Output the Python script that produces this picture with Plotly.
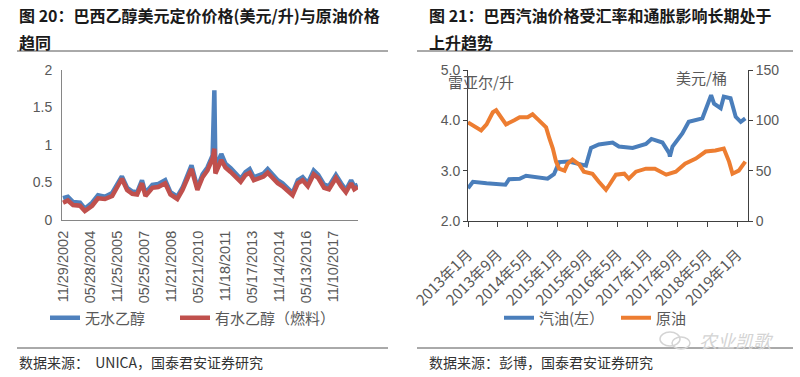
import plotly.graph_objects as go

# ---------------- Figure 20: Brazil ethanol prices (USD/L) ----------------
eth_dates = [
    "2002-11-29", "2003-03-07", "2003-06-20", "2003-11-07", "2004-02-13", "2004-07-09",
    "2004-11-05", "2005-03-25", "2005-08-19", "2005-11-25", "2006-03-03", "2006-06-16",
    "2006-09-29", "2007-01-05", "2007-04-13", "2007-06-22", "2007-11-09", "2008-03-07",
    "2008-07-25", "2008-11-07", "2009-03-27", "2009-07-10", "2009-10-23", "2010-01-08",
    "2010-05-07", "2010-08-20", "2010-11-26", "2011-03-11", "2011-04-15", "2011-05-06",
    "2011-09-02", "2011-11-25", "2012-03-09", "2012-06-15", "2012-09-28", "2013-01-04",
    "2013-03-29", "2013-06-21", "2013-09-27", "2014-01-03", "2014-03-28", "2014-07-04",
    "2014-10-17", "2015-01-23", "2015-05-08", "2015-08-14", "2015-11-27", "2016-03-04",
    "2016-06-17", "2016-10-14", "2017-01-13", "2017-05-12", "2017-08-18", "2018-01-05",
    "2018-04-20", "2018-07-27", "2018-11-09", "2019-01-11", "2019-03-22",
]
anhydrous = [
    0.29, 0.31, 0.24, 0.23, 0.15, 0.23,
    0.33, 0.31, 0.36, 0.47, 0.58, 0.43,
    0.38, 0.37, 0.53, 0.36, 0.47, 0.48,
    0.53, 0.37, 0.31, 0.43, 0.60, 0.73,
    0.43, 0.61, 0.70, 0.86, 1.73, 0.69,
    0.88, 0.75, 0.69, 0.62, 0.55, 0.64,
    0.68, 0.57, 0.60, 0.62, 0.68, 0.60,
    0.53, 0.49, 0.43, 0.36, 0.53, 0.57,
    0.49, 0.66, 0.60, 0.47, 0.45, 0.60,
    0.49, 0.40, 0.53, 0.45, 0.47,
]
hydrous = [
    0.23, 0.26, 0.20, 0.19, 0.12, 0.19,
    0.29, 0.28, 0.32, 0.43, 0.55, 0.40,
    0.35, 0.34, 0.49, 0.32, 0.43, 0.44,
    0.49, 0.34, 0.28, 0.40, 0.56, 0.68,
    0.40, 0.57, 0.66, 0.82, 0.95, 0.62,
    0.80, 0.70, 0.64, 0.57, 0.51, 0.60,
    0.63, 0.53, 0.56, 0.58, 0.63, 0.56,
    0.49, 0.45, 0.39, 0.33, 0.49, 0.53,
    0.45, 0.61, 0.56, 0.43, 0.41, 0.56,
    0.45, 0.37, 0.49, 0.41, 0.44,
]
eth_tick_dates = [
    "2002-11-29", "2004-05-28", "2005-11-25", "2007-05-25", "2008-11-21", "2010-05-21",
    "2011-11-18", "2013-05-17", "2014-11-14", "2016-05-13", "2017-11-10",
]
eth_tick_labels = [
    "11/29/2002", "05/28/2004", "11/25/2005", "05/25/2007", "11/21/2008", "05/21/2010",
    "11/18/2011", "05/17/2013", "11/14/2014", "05/13/2016", "11/10/2017",
]
eth_y_ticks = [0, 0.5, 1, 1.5, 2]
eth_y_labels = ["0", "0.5", "1", "1.5", "2"]

# ---------------- Figure 21: Brazil gasoline vs crude ----------------
gas_dates = [
    "2013-01-01", "2013-02-10", "2013-06-01", "2013-09-12", "2013-11-01", "2013-12-01",
    "2014-02-25", "2014-04-18", "2014-08-01", "2014-10-10", "2014-12-01", "2015-01-12",
    "2015-04-01", "2015-06-25", "2015-08-18", "2015-09-28", "2015-12-01", "2016-03-22",
    "2016-05-12", "2016-09-01", "2016-12-18", "2017-02-01", "2017-05-01", "2017-06-25",
    "2017-07-01", "2017-07-22", "2017-10-10", "2017-12-01", "2018-03-22", "2018-05-12",
    "2018-06-01", "2018-06-25", "2018-08-18", "2018-09-12", "2018-11-06", "2018-12-18",
    "2019-01-28", "2019-03-06",
]
gasoline = [
    2.65, 2.78, 2.75, 2.72, 2.72, 2.83,
    2.84, 2.90, 2.86, 2.84, 2.93, 3.17,
    3.18, 3.12, 3.10, 3.45, 3.52, 3.56,
    3.48, 3.45, 3.53, 3.63, 3.56, 3.35,
    3.28, 3.48, 3.74, 3.97, 4.04, 4.37,
    4.50, 4.33, 4.24, 4.47, 4.44, 4.07,
    3.97, 4.04,
]
crude_dates = [
    "2013-01-01", "2013-03-07", "2013-04-18", "2013-06-01", "2013-07-22", "2013-08-18",
    "2013-09-28", "2013-11-06", "2014-01-12", "2014-02-25", "2014-05-01", "2014-06-10",
    "2014-08-01", "2014-09-28", "2014-10-25", "2014-11-22", "2014-12-18", "2015-01-12",
    "2015-02-25", "2015-03-22", "2015-05-01", "2015-06-25", "2015-08-01", "2015-10-10",
    "2015-12-01", "2016-01-28", "2016-02-25", "2016-04-18", "2016-06-25", "2016-08-01",
    "2016-09-28", "2016-12-18", "2017-03-01", "2017-06-01", "2017-08-18", "2017-11-01",
    "2018-01-28", "2018-04-18", "2018-07-06", "2018-09-12", "2018-10-25", "2018-11-22",
    "2019-01-12", "2019-03-06",
]
crude = [
    98, 93, 90, 96, 108, 110,
    103, 96, 100, 103, 103, 106,
    100, 93, 82, 72, 59, 52,
    50, 57, 61, 56, 49, 47,
    39, 31, 36, 46, 47, 42,
    49, 52, 52, 46, 49, 57,
    62, 69, 70, 72, 59, 47,
    50, 59,
]
br_tick_dates = [
    "2013-01-01", "2013-09-01", "2014-05-01", "2015-01-01", "2015-09-01",
    "2016-05-01", "2017-01-01", "2017-09-01", "2018-05-01", "2019-01-01",
]
br_tick_labels = [
    "2013年1月", "2013年9月", "2014年5月", "2015年1月", "2015年9月",
    "2016年5月", "2017年1月", "2017年9月", "2018年5月", "2019年1月",
]

W, H = 800, 377


def fx(p):
    return p / W


def fy(p):
    return 1 - p / H


CJK = "Noto Sans CJK SC"
LAT = "Liberation Sans, Arial, sans-serif"
GREY = "#595959"

fig = go.Figure()
fig.add_trace(go.Scatter(x=eth_dates, y=anhydrous, name="无水乙醇", mode="lines",
                         line=dict(color="#4F81BD", width=4.5), xaxis="x", yaxis="y",
                         legend="legend", legendwidth=85))
fig.add_trace(go.Scatter(x=eth_dates, y=hydrous, name="有水乙醇（燃料）", mode="lines",
                         line=dict(color="#C0504D", width=4.5), xaxis="x", yaxis="y",
                         legend="legend", legendwidth=135))
fig.add_trace(go.Scatter(x=gas_dates, y=gasoline, name="汽油(左）", mode="lines",
                         line=dict(color="#4A7EBB", width=4), xaxis="x2", yaxis="y2",
                         legend="legend2", legendwidth=72))
fig.add_trace(go.Scatter(x=crude_dates, y=crude, name="原油", mode="lines",
                         line=dict(color="#ED7D31", width=4), xaxis="x2", yaxis="y3",
                         legend="legend2", legendwidth=45))

axis_common = dict(showgrid=False, zeroline=False, showline=True, automargin=False)

fig.update_layout(
    template="none",
    width=W, height=H,
    margin=dict(l=0, r=0, t=0, b=0, autoexpand=False),
    paper_bgcolor="white", plot_bgcolor="white",
    xaxis=dict(**axis_common, domain=[fx(62), fx(358)], anchor="y", type="date",
               range=["2002-11-08", "2019-03-28"],
               tickmode="array", tickvals=eth_tick_dates, ticktext=eth_tick_labels,
               tickangle=-90, ticks="", linecolor="#868686", linewidth=1,
               ticklabelstandoff=4,
               tickfont=dict(family=LAT, size=14.5, color=GREY)),
    yaxis=dict(**axis_common, domain=[fy(220), fy(70)], anchor="x",
               range=[0, 2], tickmode="array", tickvals=eth_y_ticks, ticktext=eth_y_labels,
               ticks="", linecolor="#868686", linewidth=1, ticklabelstandoff=6,
               tickfont=dict(family=LAT, size=14, color=GREY)),
    xaxis2=dict(**axis_common, domain=[fx(468), fx(748)], anchor="y2", type="date",
                range=["2013-01-01", "2019-03-28"],
                tickmode="array", tickvals=br_tick_dates, ticktext=br_tick_labels,
                tickangle=-45, ticks="outside", ticklen=5, tickcolor="#404040",
                linecolor="#404040", linewidth=1, ticklabelstandoff=13,
                tickfont=dict(family=CJK, size=15, color=GREY)),
    yaxis2=dict(**axis_common, domain=[fy(221), fy(70)], anchor="x2",
                range=[2, 5], dtick=1, tickformat=".1f",
                ticks="outside", ticklen=4, tickcolor="#404040",
                linecolor="#404040", linewidth=1,
                tickfont=dict(family=LAT, size=14, color=GREY)),
    yaxis3=dict(**axis_common, domain=[fy(221), fy(70)], anchor="x2", overlaying="y2",
                side="right", range=[0, 150], dtick=50,
                ticks="outside", ticklen=4, tickcolor="#404040",
                linecolor="#404040", linewidth=1,
                tickfont=dict(family=LAT, size=14, color=GREY)),
    legend=dict(orientation="h", x=fx(45), y=fy(318), xanchor="left", yanchor="middle",
                font=dict(family=CJK, size=15, color=GREY), bgcolor="rgba(0,0,0,0)"),
    legend2=dict(orientation="h", x=fx(499), y=fy(318), xanchor="left", yanchor="middle",
                 font=dict(family=CJK, size=15, color=GREY), bgcolor="rgba(0,0,0,0)"),
    showlegend=True,
)

title_font = dict(family=CJK, size=16, color="#1a1a1a", weight="bold")
src_font = dict(family=CJK, size=14, color="#333333")
annos = [
    dict(x=fx(17), y=fy(15), text="图 20：巴西乙醇美元定价价格(美元/升)与原油价格", font=title_font),
    dict(x=fx(17), y=fy(42), text="趋同", font=title_font),
    dict(x=fx(427), y=fy(15), text="图 21：巴西汽油价格受汇率和通胀影响长期处于", font=title_font),
    dict(x=fx(427), y=fy(42), text="上升趋势", font=title_font),
    dict(x=fx(17), y=fy(362), text="数据来源：  UNICA，国泰君安证券研究", font=src_font),
    dict(x=fx(427), y=fy(362), text="数据来源：彭博，国泰君安证券研究", font=src_font),
    dict(x=fx(446), y=fy(82), text="雷亚尔/升", font=dict(family=CJK, size=15, color=GREY)),
    dict(x=fx(674), y=fy(77), text="美元/桶", font=dict(family=CJK, size=15, color=GREY)),
    dict(x=fx(697), y=fy(340), text="<i>农业凯歌</i>", font=dict(family=CJK, size=18, color="#d4d4d4")),
]
for a in annos:
    a.update(xref="paper", yref="paper", xanchor="left", yanchor="middle", showarrow=False)
    fig.add_annotation(**a)

rule = dict(type="line", xref="paper", yref="paper", line=dict(color="#555555", width=1))
fig.add_shape(**rule, x0=fx(17), x1=fx(388), y0=fy(51), y1=fy(51))
fig.add_shape(**rule, x0=fx(417), x1=fx(793), y0=fy(51), y1=fy(51))
fig.add_shape(**rule, x0=fx(17), x1=fx(388), y0=fy(348), y1=fy(348))
fig.add_shape(**rule, x0=fx(417), x1=fx(793), y0=fy(348), y1=fy(348))
# watermark bubble icon
fig.add_shape(type="circle", xref="paper", yref="paper", x0=fx(660), x1=fx(680),
              y0=fy(346), y1=fy(332), line=dict(color="#d4d4d4", width=1.5))
fig.add_shape(type="circle", xref="paper", yref="paper", x0=fx(672), x1=fx(690),
              y0=fy(349), y1=fy(337), line=dict(color="#d4d4d4", width=1.5))

fig.write_html("out.html", config={"displayModeBar": False},
               post_script="document.body.style.margin='0';")
